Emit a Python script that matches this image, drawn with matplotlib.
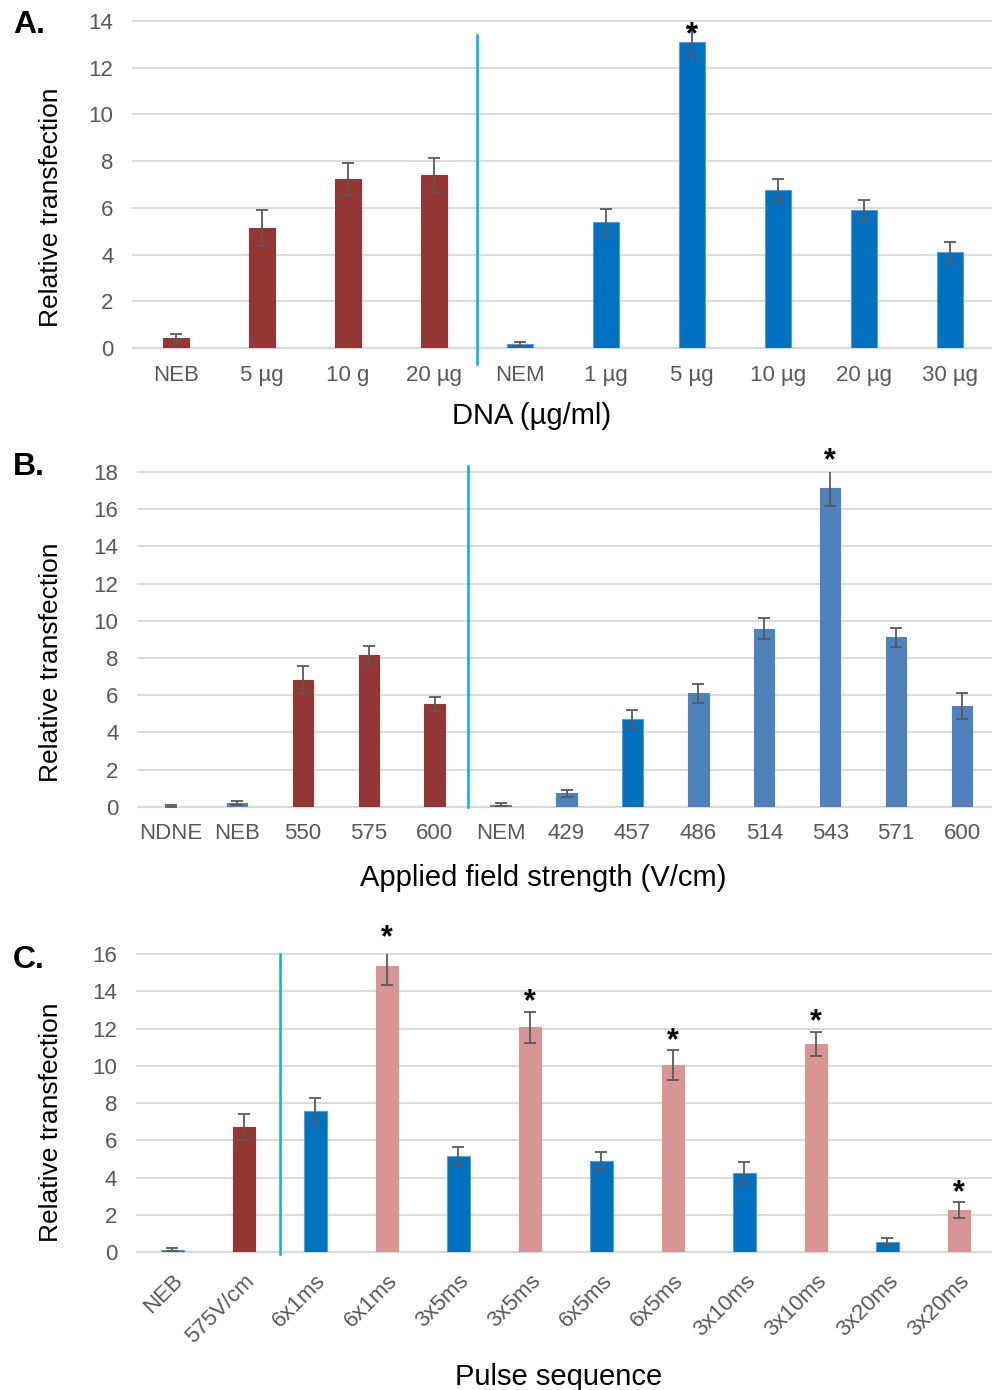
import matplotlib
matplotlib.use("Agg")
import matplotlib.pyplot as plt
import numpy as np

plt.rcParams['font.family'] = ['Liberation Sans', 'DejaVu Sans']

RED = "#943634"
BLUE = "#0070C0"
SBLUE = "#4F81BD"
PINK = "#D99594"
DIV = "#00B0F0"
GRID = "#D9D9D9"
TXT = "#595959"

# Panel A
a_labels = ["NEB", "5 µg", "10 g", "20 µg", "NEM", "1 µg", "5 µg", "10 µg", "20 µg", "30 µg"]
a_values = [0.42, 5.14, 7.23, 7.41, 0.17, 5.38, 13.09, 6.75, 5.92, 4.10]
a_errors = [0.18, 0.78, 0.70, 0.74, 0.10, 0.55, 0.60, 0.50, 0.42, 0.44]
a_colors = [RED] * 4 + [BLUE] * 6
a_star = [6]

# Panel B
b_labels = ["NDNE", "NEB", "550", "575", "600", "NEM", "429", "457", "486", "514", "543", "571", "600"]
b_values = [0.02, 0.20, 6.81, 8.15, 5.52, 0.10, 0.72, 4.71, 6.10, 9.57, 17.12, 9.10, 5.43]
b_errors = [0.06, 0.10, 0.75, 0.47, 0.40, 0.08, 0.18, 0.50, 0.50, 0.57, 0.95, 0.52, 0.70]
b_colors = ["#DCE6F2", SBLUE, RED, RED, RED, SBLUE, SBLUE, BLUE, SBLUE, SBLUE, SBLUE, SBLUE, SBLUE]
b_star = [10]

# Panel C
c_labels = ["NEB", "575V/cm", "6x1ms", "6x1ms", "3x5ms", "3x5ms", "6x5ms", "6x5ms",
            "3x10ms", "3x10ms", "3x20ms", "3x20ms"]
c_values = [0.15, 6.72, 7.56, 15.35, 5.16, 12.06, 4.90, 10.04, 4.24, 11.17, 0.57, 2.27]
c_errors = [0.08, 0.68, 0.70, 1.00, 0.48, 0.82, 0.50, 0.80, 0.60, 0.66, 0.20, 0.41]
c_colors = [BLUE, RED, BLUE, PINK, BLUE, PINK, BLUE, PINK, BLUE, PINK, BLUE, PINK]
c_star = [3, 5, 7, 9, 11]

W, H = 992, 1390
fig = plt.figure(figsize=(W / 100, H / 100), dpi=100)


def px_axes(x0, x1, y_top, y_bot):
    return fig.add_axes([x0 / W, 1 - y_bot / H, (x1 - x0) / W, (y_bot - y_top) / H])


def draw(ax, labels, values, errors, colors, stars, ymax, div_pos, div_span, xlabel,
         star_dy=0, rot=False):
    n = len(labels)
    x = np.arange(n)
    ax.set_xlim(-0.5, n - 0.5)
    ax.set_ylim(0, ymax)
    ax.set_yticks(np.arange(0, ymax + 0.1, 2))
    for yv in np.arange(0, ymax + 0.1, 2):
        ax.axhline(yv, color=GRID, lw=1.6 if yv == 0 else 1.3, zorder=0, clip_on=False)
    for s in ax.spines.values():
        s.set_visible(False)
    edges = ["#5B9BD5" if c == BLUE else c for c in colors]
    ax.bar(x, values, width=0.31, color=colors, edgecolor=edges, linewidth=0.8, zorder=2)
    ax.errorbar(x, values, yerr=errors, fmt="none", ecolor="#595959", elinewidth=1.3,
                capsize=4, capthick=1.3, zorder=3)
    for i in stars:
        ax.annotate("*", (x[i], values[i] + errors[i]), xytext=(0, -2 + star_dy),
                    textcoords="offset points", ha="center", va="bottom",
                    fontsize=22, fontweight="bold", color="black",
                    annotation_clip=False, zorder=5)
    ax.axvline(div_pos, ymin=div_span[0], ymax=div_span[1], color=DIV, lw=1.8,
               zorder=4, clip_on=False)
    ax.tick_params(axis="both", length=0, labelsize=16, labelcolor=TXT)
    ax.tick_params(axis="y", pad=14)
    ax.set_xticks(x)
    if rot:
        ax.set_xticklabels(labels, rotation=45, ha="right", rotation_mode="anchor")
        ax.tick_params(axis="x", pad=13)
    else:
        ax.set_xticklabels(labels)
        ax.tick_params(axis="x", pad=12)
    ax.set_ylabel("Relative transfection", fontsize=19, color="black")
    ax.set_xlabel(xlabel, fontsize=21, color="black")


axA = px_axes(133, 993, 21, 348)
draw(axA, a_labels, a_values, a_errors, a_colors, a_star, 14, 3.5, (-0.049, 0.957),
     "DNA (µg/ml)", star_dy=-14)
axA.xaxis.set_label_coords(0.463, -0.166)
axA.yaxis.set_label_coords(-0.081, 0.431)

axB = px_axes(138, 995, 472, 806.7)
draw(axB, b_labels, b_values, b_errors, b_colors, b_star, 18, 4.5, (0.0, 1.018),
     "Applied field strength (V/cm)", star_dy=-2)
axB.xaxis.set_label_coords(0.473, -0.17)
axB.yaxis.set_label_coords(-0.087, 0.432)

axC = px_axes(136.7, 994.7, 954, 1252.3)
draw(axC, c_labels, c_values, c_errors, c_colors, c_star, 16, 1.5, (-0.007, 1.0),
     "Pulse sequence", star_dy=-2, rot=True)
axC.xaxis.set_label_coords(0.492, -0.372)
axC.yaxis.set_label_coords(-0.086, 0.437)

for lab, y in [("A.", 25), ("B.", 467), ("C.", 960)]:
    fig.text(13 / W, 1 - y / H, lab, fontsize=23, fontweight="bold", va="center", ha="left")

fig.savefig("out.png", dpi=100)
